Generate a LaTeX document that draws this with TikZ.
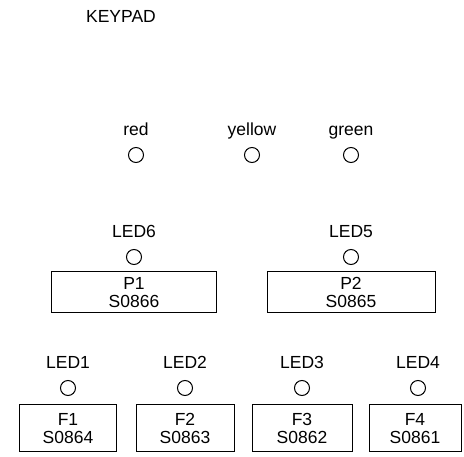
\documentclass[tikz,border=0pt]{standalone}
\usepackage{fontspec}
\setmainfont{Liberation Sans}
\usetikzlibrary{positioning}
\tikzset{
  led/.style = {circle, draw=black, line width=1pt, minimum size=15pt, inner sep=0pt},
  lbl/.style = {inner sep=0pt, text height=12.5pt, text depth=0pt,
                font=\fontsize{17.5}{18}\selectfont},
  key/.style = {draw=black, line width=1pt, align=center, inner sep=0pt,
                font=\fontsize{17.5}{18}\selectfont},
}

\begin{document}
\begin{tikzpicture}[x=1pt, y=-1pt]
\useasboundingbox (0,0) rectangle (464,457);
% title
\node[lbl] (keypad) at (121,16) {KEYPAD};

% Row 1: status lamps
\node[led] (red) at (136,155) {};
\node[led] (yellow) at (252,155) {};
\node[led] (green) at (351,155) {};
\foreach \c in {red,yellow,green}{\node[lbl, above=11pt of \c] (l-\c) {\c};}

% Row 2: P keys with LED6 / LED5
\node[led] (led6) at (134,257) {};
\node[led] (led5) at (351,257) {};
\node[lbl, above=11pt of led6] (l-led6) {LED6};
\node[lbl, above=11pt of led5] (l-led5) {LED5};
\node[key, minimum width=165pt, minimum height=41pt, below=6.5pt of led6] (p1) {P1\\S0866};
\node[key, minimum width=168pt, minimum height=41pt, below=6.5pt of led5] (p2) {P2\\S0865};

% Row 3: F keys with LED1..LED4
\foreach \i/\x/\w/\d/\s in {1/68/97/0/S0864, 2/185/98/0/S0863, 3/302/100/0/S0862, 4/418/92/-3/S0861}{
  \node[led] (led\i) at (\x,388) {};
  \node[lbl, above=11pt of led\i] (l-led\i) {LED\i};
  \node[key, minimum width=\w pt, minimum height=47pt, below=8.5pt of led\i, xshift=\d pt] (f\i) {F\i\\\s};
}
\end{tikzpicture}
\end{document}
